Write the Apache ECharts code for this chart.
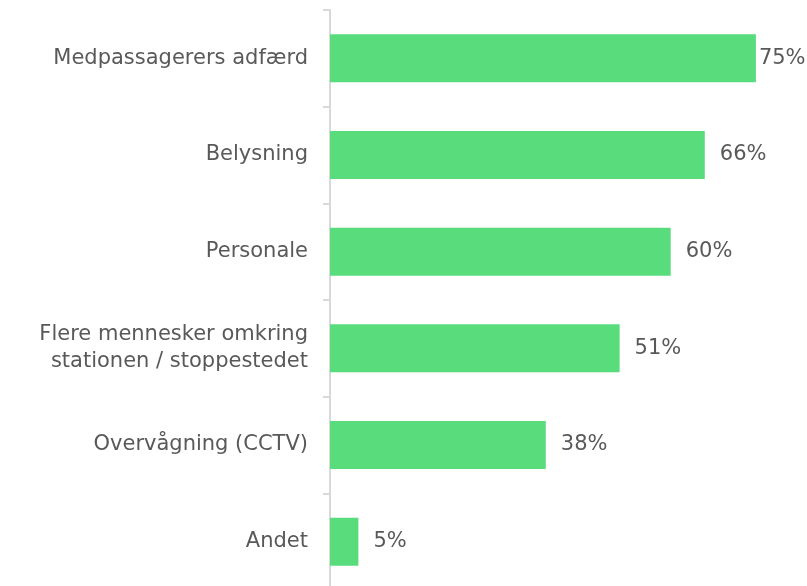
<!DOCTYPE html>
<html>
<head>
<meta charset="utf-8">
<script src="https://cdn.jsdelivr.net/npm/echarts@6/dist/echarts.min.js"></script>
<style>
  html, body { margin: 0; padding: 0; background: #fff; overflow: hidden; }
  #chart { width: 807px; height: 600px; }
</style>
</head>
<body>
<div id="chart"></div>
<script>
var categories = [
  "Medpassagerers adfærd",
  "Belysning",
  "Personale",
  "Flere mennesker omkring\nstationen / stoppestedet",
  "Overvågning (CCTV)",
  "Andet"
];
var values = [75, 66, 60, 51, 38, 5];

var chart = echarts.init(document.getElementById("chart"));

var option = {
  animation: false,
  grid: { left: 330, right: 0, top: 10, height: 580, containLabel: false },
  xAxis: {
    type: "value",
    min: 0,
    max: 84,
    show: false
  },
  yAxis: {
    type: "category",
    inverse: true,
    data: categories,
    axisLine: { show: true, lineStyle: { color: "#d9d9d9", width: 2 } },
    axisTick: { show: true, length: 7, lineStyle: { color: "#d9d9d9", width: 2 } },
    axisLabel: {
      margin: 22,
      color: "#595959",
      fontFamily: "DejaVu Sans",
      fontSize: 21,
      lineHeight: 27,
      align: "right"
    }
  },
  series: [
    {
      type: "bar",
      data: values.map(function (v, i) {
        return {
          value: v,
          label: { distance: i === 0 ? 3 : 15 }
        };
      }),
      barWidth: 48,
      itemStyle: { color: "#58dc7c" },
      label: {
        show: true,
        position: "right",
        formatter: "{c}%",
        color: "#595959",
        fontFamily: "DejaVu Sans",
        fontSize: 21
      }
    }
  ]
};

chart.setOption(option);
</script>
</body>
</html>
